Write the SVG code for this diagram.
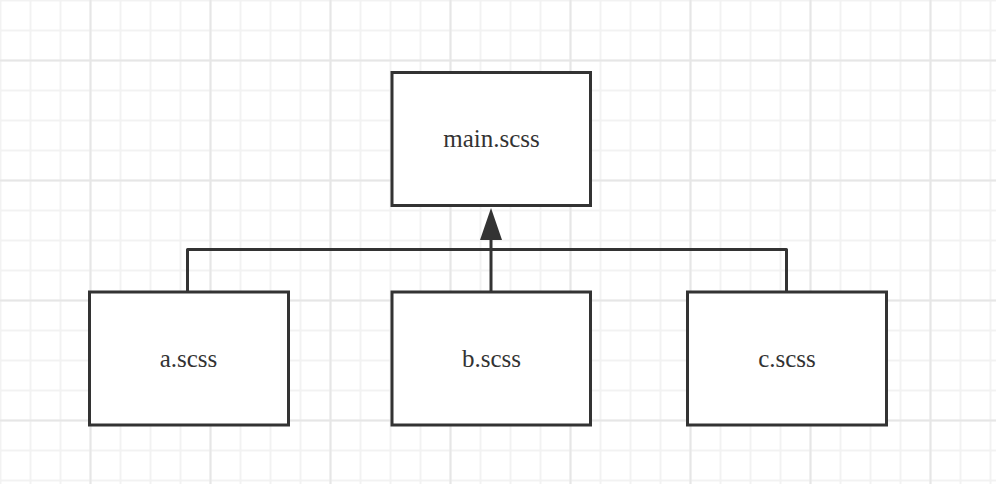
<svg xmlns="http://www.w3.org/2000/svg" width="996" height="484" viewBox="0 0 996 484">
  <style>
    .box { fill: #ffffff; stroke: #333333; stroke-width: 3; }
    .label { font-family: "Liberation Serif", "DejaVu Serif", serif; font-size: 25px; fill: #333333; text-anchor: middle; }
    .conn { fill: none; stroke: #333333; stroke-width: 3; stroke-linejoin: round; }
  </style>
  <defs>
    <pattern id="minor" x="-0.5" y="-0.5" width="30" height="30" patternUnits="userSpaceOnUse">
      <rect x="0" y="0" width="30" height="2" fill="#f2f2f2"/>
      <rect x="0" y="0" width="2" height="30" fill="#f2f2f2"/>
    </pattern>
    <pattern id="major" x="89.5" y="59.5" width="120" height="120" patternUnits="userSpaceOnUse">
      <rect x="0" y="0" width="120" height="2" fill="#e6e6e6"/>
      <rect x="0" y="0" width="2" height="120" fill="#e6e6e6"/>
    </pattern>
    <marker id="arrow" viewBox="0 0 32 22" markerWidth="32" markerHeight="22" refX="25" refY="11" orient="auto" markerUnits="userSpaceOnUse">
      <path d="M0,0 L32,11 L0,22 z" fill="#333333"/>
    </marker>
  </defs>
  <rect width="996" height="484" fill="#ffffff"/>
  <rect width="996" height="484" fill="url(#minor)"/>
  <rect width="996" height="484" fill="url(#major)"/>

  <g id="connectors">
    <path class="conn" d="M187.5 291 V249.5 H786.5 V291"/>
    <path class="conn" d="M491 291 V215" marker-end="url(#arrow)"/>
  </g>

  <g id="main">
    <rect class="box" x="392" y="72.5" width="198.5" height="133"/>
    <text class="label" x="491.5" y="147">main.scss</text>
  </g>
  <g id="a">
    <rect class="box" x="89.5" y="292" width="199" height="133"/>
    <text class="label" x="188.5" y="366.5">a.scss</text>
  </g>
  <g id="b">
    <rect class="box" x="392" y="292" width="198.5" height="133"/>
    <text class="label" x="491.5" y="366.5">b.scss</text>
  </g>
  <g id="c">
    <rect class="box" x="687.5" y="292" width="199" height="133"/>
    <text class="label" x="787" y="366.5">c.scss</text>
  </g>
</svg>
